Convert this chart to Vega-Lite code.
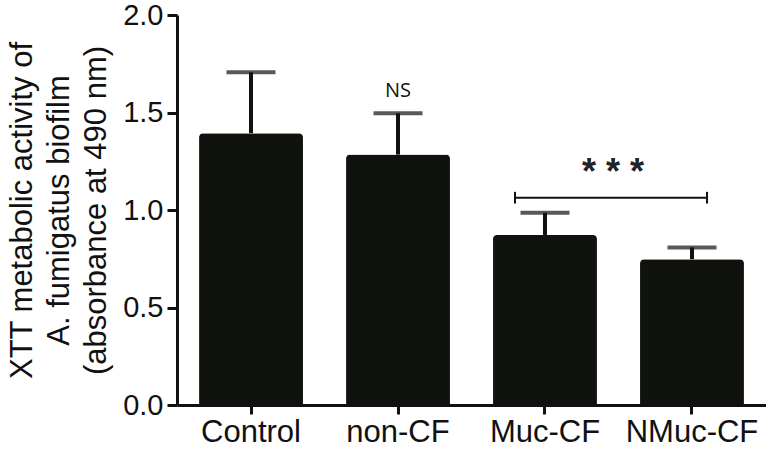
{
  "$schema": "https://vega.github.io/schema/vega-lite/v6.json",
  "width": 589,
  "height": 390,
  "autosize": {"type": "none"},
  "padding": {"left": 177, "top": 15, "right": 0, "bottom": 45},
  "background": "#ffffff",
  "config": {"view": {"stroke": null}, "font": "Liberation Sans"},
  "datasets": {
    "bars": [
      {"group": "Control", "mean": 1.394, "upper": 1.706, "label": ""},
      {"group": "non-CF", "mean": 1.284, "upper": 1.496, "label": "NS"},
      {"group": "Muc-CF", "mean": 0.872, "upper": 0.986, "label": ""},
      {"group": "NMuc-CF", "mean": 0.748, "upper": 0.808, "label": ""}
    ],
    "bracket": [
      {"start": 1.796, "end": 3.102, "level": 1.063, "mid": 2.462, "star": 1.19, "text": "* * *"}
    ],
    "bracketEnds": [
      {"pos": 1.796, "lo": 1.033, "hi": 1.093},
      {"pos": 3.102, "lo": 1.033, "hi": 1.093}
    ]
  },
  "layer": [
    {
      "data": {"name": "bars"},
      "encoding": {
        "x": {
          "field": "group",
          "type": "nominal",
          "sort": null,
          "scale": {"paddingInner": 0.293, "paddingOuter": 0.15},
          "axis": {
            "title": null,
            "labelAngle": 0,
            "labelFontSize": 31,
            "labelColor": "#111111",
            "labelPadding": 3,
            "tickSize": 9,
            "tickWidth": 3,
            "tickColor": "#111111",
            "domainWidth": 3,
            "domainColor": "#111111"
          }
        }
      },
      "layer": [
        {
          "mark": {"type": "rule", "strokeWidth": 4, "color": "#111111"},
          "encoding": {
            "y": {"field": "mean", "type": "quantitative"},
            "y2": {"field": "upper"}
          }
        },
        {
          "mark": {"type": "tick", "orient": "horizontal", "size": 49, "thickness": 4, "color": "#111111"},
          "encoding": {"y": {"field": "upper", "type": "quantitative"}}
        },
        {
          "mark": {"type": "bar", "color": "#0f120d", "cornerRadiusTopLeft": 4, "cornerRadiusTopRight": 4},
          "encoding": {
            "y": {
              "field": "mean",
              "type": "quantitative",
              "scale": {"domain": [0, 2]},
              "axis": {
                "values": [0, 0.5, 1, 1.5, 2],
                "format": ".1f",
                "grid": false,
                "title": ["XTT metabolic activity of", "A. fumigatus biofilm", "(absorbance at 490 nm)"],
                "titleFontSize": 31,
                "titleFontWeight": "normal",
                "titleLineHeight": 37,
                "titleColor": "#111111",
                "titlePadding": 10,
                "labelFontSize": 29,
                "labelColor": "#111111",
                "labelPadding": 4,
                "tickSize": 10,
                "tickWidth": 3,
                "tickColor": "#111111",
                "domainWidth": 3,
                "domainColor": "#111111"
              }
            }
          }
        },
        {
          "mark": {"type": "text", "font": "Open Sans", "fontSize": 20, "color": "#111111", "baseline": "middle"},
          "encoding": {
            "y": {"datum": 1.61, "type": "quantitative"},
            "text": {"field": "label"}
          }
        }
      ]
    },
    {
      "data": {"name": "bracket"},
      "encoding": {
        "x": {"field": "start", "type": "quantitative", "scale": {"domain": [-0.503, 3.503], "nice": false, "zero": false}, "axis": null}
      },
      "layer": [
        {
          "mark": {"type": "rule", "strokeWidth": 2, "color": "#111111"},
          "encoding": {
            "x2": {"field": "end"},
            "y": {"field": "level", "type": "quantitative"}
          }
        },
        {
          "mark": {"type": "text", "fontSize": 36, "fontWeight": "bold", "color": "#222222", "baseline": "middle"},
          "encoding": {
            "x": {"field": "mid", "type": "quantitative"},
            "y": {"field": "star", "type": "quantitative"},
            "text": {"field": "text"}
          }
        }
      ]
    },
    {
      "data": {"name": "bracketEnds"},
      "mark": {"type": "rule", "strokeWidth": 2, "color": "#111111"},
      "encoding": {
        "x": {"field": "pos", "type": "quantitative", "scale": {"domain": [-0.503, 3.503], "nice": false, "zero": false}, "axis": null},
        "y": {"field": "lo", "type": "quantitative"},
        "y2": {"field": "hi"}
      }
    }
  ],
  "resolve": {"scale": {"x": "independent"}}
}
